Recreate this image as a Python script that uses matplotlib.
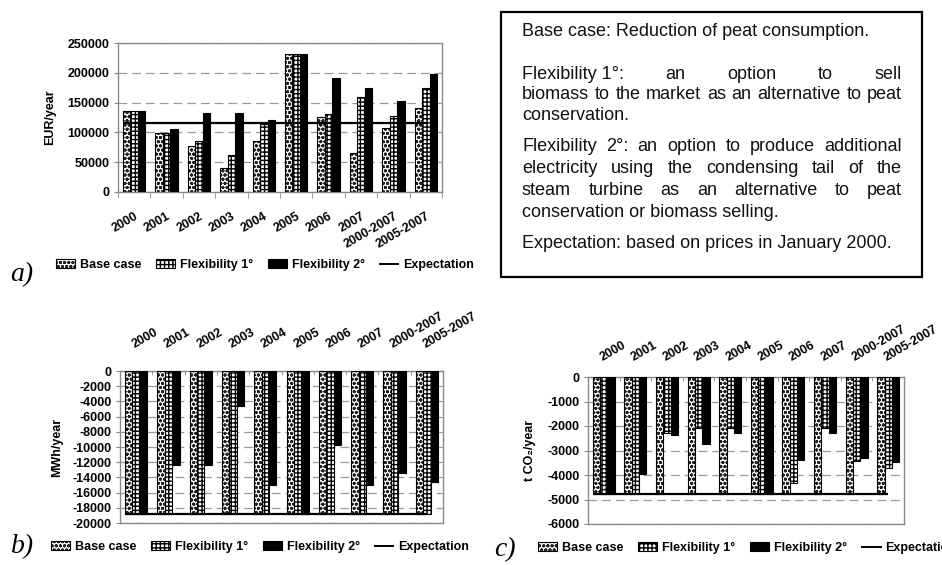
import numpy as np
import matplotlib
matplotlib.use("Agg")
import matplotlib.pyplot as plt
from matplotlib.patches import Patch, Rectangle
from matplotlib.lines import Line2D
from matplotlib.legend_handler import HandlerTuple

plt.rcParams["font.family"] = ["Liberation Sans", "DejaVu Sans"]
plt.rcParams["hatch.linewidth"] = 1.0

categories = ["2000", "2001", "2002", "2003", "2004", "2005", "2006", "2007",
              "2000-2007", "2005-2007"]
series_names = ["Base case", "Flexibility 1°", "Flexibility 2°"]
expectation_name = "Expectation"

# a) value of the options, EUR/year
eur_base = [136000, 99500, 78000, 40000, 85500, 231000, 125300, 65400, 107900, 140400]
eur_flex1 = [136000, 99500, 85600, 62600, 114000, 231000, 130900, 158900, 127500, 174000]
eur_flex2 = [136000, 105700, 132000, 132000, 120800, 231000, 190800, 175000, 152700, 198500]
eur_expectation = 116300

# b) change in electricity production, MWh/year
mwh_base = [-18800, -18800, -18800, -18800, -18800, -18800, -18800, -18800, -18800, -18800]
mwh_flex1 = [-18800, -18800, -18800, -18800, -18800, -18800, -18800, -18800, -18800, -18800]
mwh_flex2 = [-18800, -12340, -12340, -4650, -15000, -18800, -9800, -15000, -13400, -14600]
mwh_expectation = -18800

# c) change in CO2 emissions, t/year
co2_base = [-4790, -4790, -4790, -4790, -4790, -4790, -4790, -4790, -4790, -4790]
co2_flex1 = [-4790, -4790, -2280, -2100, -2100, -4790, -4340, -2100, -3430, -3730]
co2_flex2 = [-4790, -3950, -2380, -2720, -2280, -4790, -3400, -2280, -3320, -3480]
co2_expectation = -4790

W_PX, H_PX = 942, 565
fig = plt.figure(figsize=(W_PX / 100, H_PX / 100), dpi=100)


def rect(left, top, right, bottom):
    return [left / W_PX, 1 - bottom / H_PX, (right - left) / W_PX, (bottom - top) / H_PX]


BASE_HATCH = "oooo"
BASE_HATCH_COLOR = "#222222"
FLEX1_HATCH = "++++"
GRID_COLOR = "#9a9a9a"
SPINE_COLOR = "#8a8a8a"
TICK_FONT = dict(fontsize=9, fontweight="bold")


def draw_panel(ax, base, flex1, flex2, expectation, ylim, ystep, ylabel,
               label_x, top_labels, label_pad):
    x = np.arange(len(categories))
    w = 0.23
    ax.set_axisbelow(True)
    # hatched fills first, black outlines on top
    ax.bar(x - w, base, w, facecolor="white", edgecolor=BASE_HATCH_COLOR,
           hatch=BASE_HATCH, linewidth=0, zorder=2)
    ax.bar(x - w, base, w, fill=False, edgecolor="black", linewidth=0.8, zorder=3)
    ax.bar(x, flex1, w, facecolor="white", edgecolor="black",
           hatch=FLEX1_HATCH, linewidth=0, zorder=2)
    ax.bar(x, flex1, w, fill=False, edgecolor="black", linewidth=0.8, zorder=3)
    ax.bar(x + w, flex2, w, facecolor="black", edgecolor="black",
           linewidth=0.8, zorder=3)
    ax.hlines(expectation, x[0] - 1.5 * w, x[-1], colors="black",
              linewidth=1.6, zorder=4)

    ax.set_xlim(-0.5, len(categories) - 0.5)
    ax.set_ylim(*ylim)
    yt = np.arange(ylim[0], ylim[1] + ystep / 2, ystep)
    ax.set_yticks(yt)
    ax.set_yticklabels([f"{int(v)}" for v in yt], **TICK_FONT)
    ax.yaxis.grid(True, linestyle=(0, (7, 4)), color=GRID_COLOR, linewidth=0.9)
    ax.tick_params(axis="y", length=3, color=SPINE_COLOR, pad=3)

    ax.set_xticks(x)
    ax.set_xticks(np.arange(-0.5, len(categories), 1), minor=True)
    if top_labels:
        ax.xaxis.set_ticks_position("top")
        ax.set_xticklabels(categories, rotation=30, ha="left", va="bottom",
                           rotation_mode="anchor", **TICK_FONT)
        ax.tick_params(axis="x", which="minor", length=3, direction="in",
                       color=SPINE_COLOR)
    else:
        ax.set_xticklabels(categories, rotation=30, ha="right", va="top",
                           rotation_mode="anchor", **TICK_FONT)
        ax.tick_params(axis="x", which="minor", length=4, direction="out",
                       color=SPINE_COLOR)
    ax.tick_params(axis="x", which="major", length=0, pad=label_pad)

    for s in ax.spines.values():
        s.set_color(SPINE_COLOR)
        s.set_linewidth(1.0)

    ax.set_ylabel(ylabel, fontsize=9, fontweight="bold")
    ax.yaxis.set_label_coords(label_x, 0.5)


ax_a = fig.add_axes(rect(118, 43, 442, 192))
draw_panel(ax_a, eur_base, eur_flex1, eur_flex2, eur_expectation,
           (0, 250000), 50000, "EUR/year", -0.19, False, 13)

ax_b = fig.add_axes(rect(120, 371, 443, 523))
draw_panel(ax_b, mwh_base, mwh_flex1, mwh_flex2, mwh_expectation,
           (-20000, 0), 2000, "MWh/year", -0.176, True, 15)

ax_c = fig.add_axes(rect(588, 377, 904, 524))
draw_panel(ax_c, co2_base, co2_flex1, co2_flex2, co2_expectation,
           (-6000, 0), 1000, "t CO₂/year", -0.165, True, 10)

# legends
handles = [
    (Patch(facecolor="white", edgecolor=BASE_HATCH_COLOR, hatch=BASE_HATCH, linewidth=0),
     Patch(fill=False, edgecolor="black", linewidth=0.8)),
    (Patch(facecolor="white", edgecolor="black", hatch=FLEX1_HATCH, linewidth=0),
     Patch(fill=False, edgecolor="black", linewidth=0.8)),
    Patch(facecolor="black", edgecolor="black", linewidth=0.8),
    Line2D([], [], color="black", linewidth=1.4),
]
labels = series_names + [expectation_name]


def add_legend(loc, anchor_px):
    fig.legend(handles, labels, loc=loc,
               bbox_to_anchor=(anchor_px[0] / W_PX, 1 - anchor_px[1] / H_PX),
               ncol=4, frameon=False, borderpad=0, borderaxespad=0,
               handlelength=1.5, handleheight=0.75, handletextpad=0.4,
               columnspacing=1.2,
               prop=dict(family=["Liberation Sans", "DejaVu Sans"], weight="bold", size=9),
               handler_map={tuple: HandlerTuple(ndivide=1, pad=0)})


add_legend("center", (265, 265))
add_legend("center", (260, 547))
add_legend("center left", (538, 548))

# panel letters
letter_style = dict(family="Liberation Serif", style="italic", fontsize=20,
                    va="baseline", ha="left")
fig.text(10 / W_PX, 1 - 281 / H_PX, "a)", **letter_style)
fig.text(11 / W_PX, 1 - 553 / H_PX, "b)", **letter_style)
fig.text(494 / W_PX, 1 - 556 / H_PX, "c)", **letter_style)

# explanatory box
fig.add_artist(Rectangle((501 / W_PX, 1 - 277 / H_PX), (922 - 501) / W_PX,
                         (277 - 12) / H_PX, transform=fig.transFigure,
                         fill=False, edgecolor="black", linewidth=1.6))

box_lines = [
    (["Base case: Reduction of peat consumption."], 36, False),
    (["Flexibility 1°:", "an", "option", "to", "sell"], 79, True),
    ("biomass to the market as an alternative to peat".split(), 99, True),
    (["conservation."], 120, False),
    ("Flexibility 2°: an option to produce additional".split(), 151, True),
    ("electricity using the condensing tail of the".split(), 173, True),
    ("steam turbine as an alternative to peat".split(), 195, True),
    (["conservation or biomass selling."], 217, False),
    (["Expectation: based on prices in January 2000."], 248, False),
]
BOX_X0, BOX_X1 = 522, 902
renderer = fig.canvas.get_renderer()
for words, y_px, justify in box_lines:
    texts = [fig.text(0, 1 - y_px / H_PX, wd, fontsize=13, va="baseline", ha="left",
                      color="#111111")
             for wd in words]
    widths = [t.get_window_extent(renderer).width for t in texts]
    gap = (BOX_X1 - BOX_X0 - sum(widths)) / (len(words) - 1) if (justify and len(words) > 1) else 0
    xpos = BOX_X0
    for t, wd in zip(texts, widths):
        t.set_x(xpos / W_PX)
        xpos += wd + gap

fig.savefig("out.png", dpi=100)
